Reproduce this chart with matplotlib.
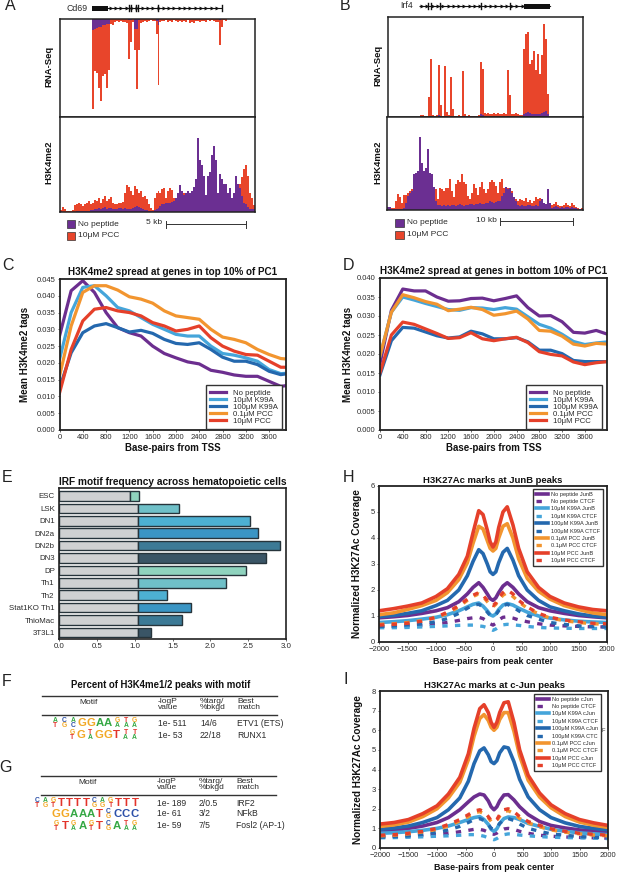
import numpy as np
import matplotlib
matplotlib.use("Agg")
import matplotlib.pyplot as plt
from matplotlib.patches import Rectangle

plt.rcParams['font.family'] = ['Liberation Sans', 'DejaVu Sans']

W, H = 617, 873
DARK = "#222222"
TXT = "#2b2b2b"
PURPLE = "#6C2E8F"
SKY = "#45A5DA"
BLUE = "#2468AE"
ORANGE = "#F2952F"
RED = "#E5402A"
TRACK_RED = "#E8452B"
TRACK_PURPLE = "#6B2F92"

# --- coverage tracks, percent of track height per bin ---
a_rna_red = [0, 0, 0, 0, 0, 0, 0, 0, 0, 0, 0, 0, 0, 0, 0, 0, 92, 53, 55, 70, 84, 58, 56, 70, 52, 5, 6, 3, 2, 3, 2, 3, 3, 4,
             41, 23, 3, 32, 71, 32, 4, 3, 2, 3, 2, 1, 2, 2, 15, 67, 3, 2, 2, 1, 3, 2, 3, 1, 2, 3, 2, 3, 2, 3, 1, 4, 3, 4, 2,
             2, 3, 2, 2, 3, 1, 2, 1, 2, 3, 3, 27, 8, 1, 2, 0, 0, 0, 0, 0, 0, 0, 0, 0, 0, 0, 0, 0, 0]
a_rna_purple = [0, 0, 0, 0, 0, 0, 0, 0, 0, 0, 0, 0, 0, 0, 0, 0, 11, 10, 9, 8, 8, 6, 6, 5, 5, 0, 0, 0, 0, 0, 0, 0, 0, 0,
                1, 1, 0, 10, 10, 1, 0, 0, 0, 0, 0, 0, 0, 0, 2, 6, 0, 0, 0, 0, 0, 0, 0, 0, 0, 0, 0, 0, 0, 0, 0, 0, 0, 0, 0,
                0, 0, 0, 0, 0, 0, 0, 0, 0, 0, 0, 1, 0, 0, 0, 0, 0, 0, 0, 0, 0, 0, 0, 0, 0, 0, 0, 0, 0]
a_k4_red = [2, 5, 3, 1, 1, 1, 2, 7, 8, 9, 8, 6, 8, 10, 12, 8, 10, 13, 12, 15, 10, 14, 17, 12, 14, 16, 10, 8, 8, 10, 9, 11,
            20, 28, 26, 22, 18, 27, 24, 20, 22, 16, 17, 14, 8, 4, 2, 15, 20, 22, 20, 24, 25, 15, 22, 25, 23, 15, 15, 18, 20,
            18, 20, 20, 18, 18, 20, 22, 25, 30, 35, 30, 25, 15, 22, 25, 30, 35, 30, 18, 25, 22, 20, 18, 15, 15, 12, 14, 25,
            25, 30, 37, 45, 49, 38, 20, 15, 7]
a_k4_purple = [1, 0, 0, 0, 0, 0, 0, 0, 1, 1, 1, 1, 1, 1, 1, 2, 2, 3, 3, 4, 3, 4, 5, 3, 4, 4, 3, 3, 3, 4, 4, 3, 4, 3, 3, 3, 4,
               5, 6, 5, 4, 3, 2, 2, 1, 1, 1, 2, 3, 4, 6, 8, 8, 9, 10, 10, 11, 12, 15, 20, 28, 22, 18, 20, 22, 20, 22, 26, 35,
               78, 55, 50, 38, 18, 38, 42, 60, 70, 55, 20, 40, 35, 30, 30, 20, 25, 15, 20, 38, 30, 25, 17, 10, 8, 5, 3, 3, 3]

b_rna_red = [0, 0, 0, 0, 0, 0, 0, 0, 0, 0, 0, 0, 0, 0, 0, 0, 2, 2, 1, 1, 20, 58, 2, 1, 2, 52, 12, 1, 51, 5, 2, 40, 8, 1, 1, 2, 1,
             46, 3, 1, 2, 1, 1, 1, 1, 2, 55, 48, 4, 3, 4, 3, 3, 4, 3, 4, 3, 3, 4, 3, 47, 22, 3, 3, 4, 3, 2, 2, 68, 83, 85, 53,
             57, 66, 47, 63, 43, 62, 93, 78, 23, 0, 0, 0, 0, 0, 0, 0, 0, 0, 0, 0, 0, 0, 0, 0, 0, 0]
b_rna_purple = [0, 0, 0, 0, 0, 0, 0, 0, 0, 0, 0, 0, 0, 0, 0, 0, 0, 0, 0, 0, 0, 1, 0, 0, 0, 2, 0, 0, 1, 0, 0, 1, 0, 0, 0, 0, 0,
                1, 1, 0, 0, 0, 0, 0, 0, 0, 3, 2, 0, 0, 0, 0, 0, 0, 0, 0, 0, 0, 0, 0, 1, 0, 0, 0, 0, 0, 0, 0, 3, 4, 5, 4, 3,
                3, 3, 3, 3, 4, 5, 6, 3, 0, 0, 0, 0, 0, 0, 0, 0, 0, 0, 0, 0, 0, 0, 0, 0, 0]
b_k4_red = [2, 2, 2, 2, 10, 17, 14, 8, 16, 16, 18, 20, 22, 25, 25, 24, 30, 30, 25, 28, 30, 28, 25, 24, 22, 12, 24, 22, 20, 23,
            24, 33, 20, 14, 28, 32, 30, 39, 30, 28, 15, 12, 18, 28, 24, 16, 25, 30, 22, 18, 22, 30, 32, 30, 26, 18, 30, 33,
            24, 22, 23, 22, 20, 14, 12, 10, 12, 11, 10, 13, 9, 11, 8, 10, 14, 12, 13, 10, 8, 6, 7, 5, 5, 6, 9, 5, 4, 4, 5, 8,
            5, 4, 7, 5, 3, 2, 1, 2]
b_k4_purple = [3, 3, 1, 1, 1, 1, 1, 1, 2, 8, 15, 18, 20, 38, 40, 42, 78, 50, 42, 45, 65, 40, 38, 25, 10, 5, 5, 4, 5, 4, 5, 4, 5,
               5, 4, 5, 6, 5, 4, 5, 5, 6, 6, 5, 6, 6, 7, 6, 6, 7, 8, 10, 9, 8, 9, 10, 10, 15, 18, 25, 22, 23, 18, 14, 10, 5, 4, 5,
               4, 4, 5, 5, 4, 4, 5, 4, 10, 12, 8, 6, 22, 8, 2, 3, 4, 3, 2, 3, 2, 3, 3, 2, 3, 2, 2, 1, 1, 1]

# --- panels C and D, mean tags vs distance from TSS ---
tss_x = [0, 200, 400, 600, 800, 1000, 1200, 1400, 1600, 1800, 2000, 2200, 2400, 2600, 2800, 3000, 3200, 3400, 3600, 3800, 4000]
top_labels = ["No peptide", "10μM K99A", "100μM K99A", "0.1μM PCC", "10μM PCC"]
top_colors = [PURPLE, SKY, BLUE, ORANGE, RED]
c_nopep = [.028, .0415, .0445, .041, .035, .0305, .029, .028, .025, .0228, .0215, .0203, .0197, .0178, .0172, .0164, .016, .016, .0145, .013, .0135]
c_k99a10 = [.021, .035, .0425, .043, .040, .0365, .0355, .0335, .0315, .030, .0285, .028, .028, .025, .0228, .0223, .0215, .0205, .018, .0168, .017]
c_k99a100 = [.0125, .023, .029, .031, .0317, .0305, .0292, .0297, .0288, .027, .0258, .0255, .026, .024, .0217, .0205, .0205, .0195, .0175, .0165, .017]
c_pcc01 = [.016, .031, .041, .043, .043, .0417, .0397, .039, .0378, .0355, .034, .0335, .033, .030, .0277, .027, .026, .024, .0225, .0213, .021]
c_pcc10 = [.011, .024, .0325, .036, .0365, .0355, .035, .034, .032, .031, .0295, .030, .031, .0275, .025, .0235, .0225, .0223, .0205, .0187, .0187]
d_nopep = [.0175, .0315, .0371, .0366, .0366, .035, .0339, .034, .0346, .0347, .034, .0346, .0353, .0322, .030, .0301, .0285, .0257, .0255, .0262, .0252]
d_k99a10 = [.0195, .031, .035, .0342, .0333, .0325, .0317, .0315, .0322, .0321, .0317, .0322, .0318, .0298, .0278, .0268, .0252, .0233, .0225, .0229, .0232]
d_k99a100 = [.0145, .0235, .027, .0268, .0258, .0248, .0242, .0245, .026, .0253, .024, .024, .0243, .0232, .021, .021, .0201, .0183, .018, .018, .018]
d_pcc01 = [.0195, .031, .0356, .0348, .0338, .0331, .0314, .0318, .0323, .0317, .0302, .0306, .0313, .0292, .0262, .026, .0247, .0226, .0221, .0228, .0226]
d_pcc10 = [.015, .025, .0284, .0278, .0266, .0254, .0241, .0243, .0256, .024, .0235, .024, .0244, .023, .0206, .0199, .0195, .0179, .0172, .0177, .018]

# --- panel E ---
cells = ["ESC", "LSK", "DN1", "DN2a", "DN2b", "DN3", "DP", "Th1", "Th2", "Stat1KO Th1", "ThioMac", "3T3L1"]
cell_gray = [0.94, 1.05, 1.05, 1.05, 1.05, 1.05, 1.05, 1.05, 1.05, 1.05, 1.05, 1.05]
cell_vals = [1.06, 1.59, 2.53, 2.63, 2.92, 2.74, 2.47, 2.21, 1.43, 1.74, 1.62, 1.22]
cell_colors = ["#8FD3BE", "#6FC0C8", "#4DB0D2", "#3A95C4", "#3C7A96", "#3A5566"] * 2

# --- panels H and I, coverage around peak centres ---
peak_x = [-2000, -1750, -1500, -1250, -1000, -800, -600, -450, -350, -250, -175, -100, -50, 0,
          50, 100, 175, 250, 350, 450, 600, 800, 1000, 1250, 1500, 1750, 2000]
peak_colors = [PURPLE, PURPLE, SKY, SKY, BLUE, BLUE, ORANGE, ORANGE, RED, RED]
peak_styles = ["-", "--"] * 5
h_labels = ["No peptide JunB", "No peptide CTCF", "10μM K99A JunB", "10μM K99A CTCF", "100μM K99A JunB", "100μM K99A CTCF",
            "0.1μM PCC JunB", "0.1μM PCC CTCF", "10μM PCC JunB", "10μM PCC CTCF"]
i_labels = ["No peptide cJun", "No peptide CTCF", "10μM K99A cJun", "10μM K99A CTCF", "100μM K99A cJun", "100μM K99A CTC",
            "0.1μM PCC cJun", "0.1μM PCC CTCF", "10μM PCC cJun", "10μM PCC CTCF"]

h_nopep = [.93, .97, 1.02, 1.1, 1.2, 1.32, 1.55, 1.85, 2.1, 2.28, 2.1, 1.85, 1.67, 1.6, 1.7, 1.9, 2.15, 2.28, 2.1, 1.85, 1.55, 1.32, 1.2, 1.1, 1.02, .97, .93]
h_nopep_ctcf = [.6, .6, .62, .65, .7, .75, .83, .9, .93, .95, .9, .8, .7, .65, .72, .85, .95, .97, .92, .85, .78, .7, .65, .62, .6, .58, .58]
h_k10 = [.75, .78, .82, .88, .95, 1.05, 1.2, 1.35, 1.45, 1.5, 1.38, 1.2, 1.05, 1.0, 1.08, 1.25, 1.42, 1.48, 1.42, 1.3, 1.15, 1.0, .92, .85, .8, .77, .75]
h_k10_ctcf = [.55, .55, .56, .58, .6, .62, .64, .65, .65, .62, .6, .55, .5, .45, .5, .58, .66, .68, .66, .64, .6, .56, .54, .53, .52, .52, .52]
h_k100 = [.97, 1.02, 1.1, 1.2, 1.4, 1.6, 2.0, 2.55, 3.1, 3.55, 3.4, 3.0, 2.7, 2.6, 2.7, 3.05, 3.45, 3.6, 3.15, 2.55, 2.0, 1.6, 1.35, 1.2, 1.08, 1.0, .95]
h_k100_ctcf = [.6, .62, .66, .7, .78, .9, 1.1, 1.3, 1.42, 1.45, 1.35, 1.15, 1.02, 1.0, 1.05, 1.2, 1.4, 1.45, 1.35, 1.2, 1.02, .88, .75, .68, .62, .6, .58]
h_p01 = [1.05, 1.12, 1.25, 1.4, 1.6, 1.9, 2.4, 3.05, 3.8, 4.45, 4.35, 3.9, 3.6, 3.5, 3.6, 4.0, 4.45, 4.55, 4.0, 3.2, 2.45, 1.95, 1.65, 1.4, 1.25, 1.12, 1.05]
h_p01_ctcf = [.68, .7, .75, .82, .95, 1.1, 1.35, 1.6, 1.75, 1.85, 1.75, 1.55, 1.42, 1.35, 1.45, 1.62, 1.8, 1.9, 1.75, 1.55, 1.3, 1.08, .92, .82, .75, .7, .68]
h_p10 = [1.2, 1.28, 1.38, 1.5, 1.75, 2.05, 2.6, 3.3, 4.2, 5.05, 4.9, 4.3, 3.85, 3.65, 3.85, 4.4, 5.0, 5.2, 4.5, 3.6, 2.7, 2.1, 1.75, 1.5, 1.35, 1.25, 1.2]
h_p10_ctcf = [.65, .68, .72, .8, .95, 1.15, 1.4, 1.65, 1.8, 1.9, 1.8, 1.6, 1.45, 1.4, 1.5, 1.7, 1.9, 2.0, 1.85, 1.6, 1.35, 1.1, .95, .85, .78, .72, .7]

i_nopep = [.85, .9, 1.0, 1.12, 1.3, 1.55, 1.95, 2.35, 2.6, 2.75, 2.7, 2.4, 2.1, 1.95, 2.1, 2.4, 2.7, 2.72, 2.45, 2.1, 1.7, 1.35, 1.15, 1.02, .92, .87, .83]
i_nopep_ctcf = [.58, .6, .62, .65, .7, .75, .83, .9, .95, .95, .9, .8, .72, .7, .76, .88, .97, 1.0, .95, .85, .75, .65, .6, .56, .54, .52, .5]
i_k10 = [.75, .78, .83, .9, 1.0, 1.12, 1.3, 1.45, 1.55, 1.6, 1.45, 1.2, .95, .85, .98, 1.25, 1.5, 1.58, 1.55, 1.45, 1.25, 1.1, .95, .85, .77, .72, .68]
i_k10_ctcf = [.52, .53, .55, .57, .6, .62, .65, .68, .68, .65, .6, .52, .47, .42, .48, .58, .68, .72, .7, .66, .62, .58, .55, .53, .52, .5, .48]
i_k100 = [.95, 1.02, 1.12, 1.3, 1.55, 1.95, 2.55, 3.4, 4.3, 4.95, 5.1, 4.75, 4.4, 4.3, 4.45, 4.85, 5.15, 5.1, 4.4, 3.5, 2.6, 1.95, 1.55, 1.28, 1.1, 1, .92]
i_k100_ctcf = [.55, .58, .62, .7, .8, .92, 1.1, 1.3, 1.45, 1.5, 1.4, 1.2, 1.0, .95, 1.05, 1.25, 1.45, 1.5, 1.4, 1.22, 1.0, .85, .72, .65, .58, .55, .52]
i_p01 = [1.1, 1.18, 1.32, 1.6, 2.0, 2.55, 3.35, 4.5, 5.7, 6.6, 6.8, 6.5, 6.15, 6.0, 6.15, 6.55, 6.9, 6.9, 5.95, 4.7, 3.45, 2.6, 2.05, 1.6, 1.32, 1.16, 1.05]
i_p01_ctcf = [.62, .65, .72, .82, .95, 1.12, 1.38, 1.6, 1.8, 1.85, 1.75, 1.55, 1.35, 1.3, 1.4, 1.62, 1.85, 1.9, 1.75, 1.5, 1.28, 1.08, .92, .8, .72, .66, .62]
i_p10 = [1.22, 1.3, 1.45, 1.75, 2.15, 2.75, 3.6, 4.8, 6.1, 7.1, 7.3, 6.9, 6.4, 6.15, 6.4, 6.9, 7.4, 7.45, 6.4, 5.0, 3.7, 2.8, 2.2, 1.75, 1.45, 1.28, 1.15]
i_p10_ctcf = [.65, .68, .75, .85, 1.0, 1.2, 1.45, 1.7, 1.88, 1.95, 1.85, 1.6, 1.4, 1.35, 1.45, 1.7, 1.95, 2.0, 1.85, 1.6, 1.35, 1.15, .98, .85, .75, .7, .65]

# --- panels F and G ---
logo_colors = {"A": "#35A844", "C": "#2B4FA8", "G": "#F2A825", "T": "#E3342B"}
f_logos = [["AT", "CG", "AC", "G", "G", "A", "A", "GA", "TA", "GA"],
           ["GT", "G", "TA", "G", "G", "T", "TA", "TA"]]
g_logos = [["CT", "AG", "GT", "T", "T", "T", "T", "CG", "AG", "GT", "T", "T", "T"],
           ["G", "G", "A", "A", "A", "T", "CG", "C", "C", "C"],
           ["GT", "T", "GA", "A", "GT", "T", "CG", "A", "TA", "GA"]]
f_rows = [["1e- 511", "14/6", "ETV1 (ETS)"], ["1e- 53", "22/18", "RUNX1"]]
g_rows = [["1e- 189", "2/0.5", "IRF2"], ["1e- 61", "3/2", "NFkB"], ["1e- 59", "7/5", "Fosl2 (AP-1)"]]

# --- gene models, exon pixel columns ---
cd69_exons = [129, 131, 136, 138, 158, 222]
irf4_exons = [428, 431, 440, 481, 510]

fig = plt.figure(figsize=(W / 100, H / 100), dpi=100, facecolor="white")


def px_axes(left, top, right, bottom):
    return fig.add_axes([left / W, 1 - bottom / H, (right - left) / W, (bottom - top) / H])


# overlay in pixel columns/rows for the annotations
ov = fig.add_axes([0, 0, 1, 1], zorder=10)
ov.set_xlim(0, W)
ov.set_ylim(H, 0)
ov.axis("off")


def style_axes(ax, lw=1.1, ticksize=5.5):
    for s in ax.spines.values():
        s.set_linewidth(lw)
        s.set_color(DARK)
    ax.tick_params(labelsize=ticksize, length=1.5, width=0.5, pad=1.5, colors=TXT)


def track(ax, red, purple, invert=False):
    x = np.arange(len(red))
    ax.bar(x, red, width=1, color=TRACK_RED, linewidth=0)
    ax.bar(x, purple, width=1, color=TRACK_PURPLE, linewidth=0)
    ax.set_xlim(-0.5, len(red) - 0.5)
    ax.set_ylim(100, 0) if invert else ax.set_ylim(0, 100)
    ax.set_xticks([])
    ax.set_yticks([])
    style_axes(ax)


ax = px_axes(60, 19, 255, 117)
track(ax, a_rna_red, a_rna_purple, invert=True)
ax = px_axes(60, 117, 255, 212)
track(ax, a_k4_red, a_k4_purple)
ax = px_axes(388, 17, 583, 116.5)
track(ax, b_rna_red, b_rna_purple)
ax = px_axes(387, 116.5, 583, 210)
track(ax, b_k4_red, b_k4_purple)


def gene_model(y, x0, x1, b0, b1, exons):
    ov.plot([x0, x1], [y, y], color="#111111", lw=0.8, solid_capstyle="butt")
    beads = np.arange(x0 + 3, x1, 5.3)
    ov.plot(beads, [y] * len(beads), ls="", marker=">", ms=2.8, color="#111111", mew=0)
    ov.add_patch(Rectangle((b0, y - 2.5), b1 - b0, 5, color="#111111", lw=0))
    for e in exons:
        ov.plot([e, e], [y - 3, y + 3], color="#111111", lw=1.0)


gene_model(8, 92, 222, 92, 108, cd69_exons)
gene_model(6, 419, 550, 524, 550, irf4_exons)
ov.text(77, 8.5, "Cd69", fontsize=6.3, ha="center", va="center", color=TXT)
ov.text(407, 6, "Irf4", fontsize=6.3, ha="center", va="center", color=TXT)

for x, y, s in [(49, 66, "RNA-Seq"), (49, 162, "H3K4me2"), (378, 65, "RNA-Seq"), (378, 162, "H3K4me2")]:
    ov.text(x, y, s, rotation=90, fontsize=6.8, fontweight="bold", ha="center", va="center", color="#111111")


def track_key(x, y0, y1, tx):
    for y, s, c in [(y0, "No peptide", TRACK_PURPLE), (y1, "10μM PCC", TRACK_RED)]:
        ov.add_patch(Rectangle((x, y - 4), 8.5, 8, facecolor=c, edgecolor="#333333", lw=0.5))
        ov.text(tx, y, s, fontsize=6, va="center", color=TXT)


def scale_bar(x0, x1, y, s):
    ov.plot([x0, x1], [y, y], color="#333333", lw=0.7)
    for x in (x0, x1):
        ov.plot([x, x], [y - 3.5, y + 3.5], color="#333333", lw=0.7)
    ov.text(x0 - 3, y - 1, s, fontsize=6, ha="right", va="center", color=TXT)


track_key(66.5, 224, 235.5, 78)
scale_bar(165.5, 246, 224, "5 kb")
track_key(395, 223, 235, 407)
scale_bar(499.5, 573, 221, "10 kb")


def tss_panel(box, series, ymax, yticks, xmax, title, legend_at, ypad):
    ax = px_axes(*box)
    for vals, lab, col in zip(series, top_labels, top_colors):
        ax.plot(tss_x, vals, color=col, lw=2.3, label=lab, solid_joinstyle="round")
    ax.set_xlim(0, xmax)
    ax.set_ylim(0, ymax)
    ax.set_xticks(range(0, 3700, 400))
    ax.set_yticks(yticks)
    ax.set_yticklabels([f"{v:.3f}" for v in yticks])
    ax.set_xlabel("Base-pairs from TSS", fontsize=7, fontweight="bold", labelpad=1.5, color="#111111")
    ax.set_ylabel("Mean H3K4me2 tags", fontsize=7, fontweight="bold", labelpad=ypad, color="#111111")
    ax.set_title(title, fontsize=7.1, fontweight="bold", pad=3, color="#111111")
    style_axes(ax, lw=1.3)
    leg = ax.legend(loc="upper left", bbox_to_anchor=(legend_at[0] / W, 1 - legend_at[1] / H), bbox_transform=fig.transFigure,
                    fontsize=5.6, frameon=True, fancybox=False, framealpha=1, edgecolor="#333333", borderaxespad=0,
                    labelspacing=-0.05, handlelength=2.0, handletextpad=0.9, borderpad=0.55)
    leg.get_frame().set_linewidth(1.0)
    for t in leg.get_texts():
        t.set_color(TXT)
    return ax


tss_panel((59.5, 279, 286, 430), [c_nopep, c_k99a10, c_k99a100, c_pcc01, c_pcc10], 0.045,
          list(np.arange(0, 0.0451, 0.005)), 3890, "H3K4me2 spread at genes in top 10% of PC1", (206, 385), 5)
tss_panel((380, 278, 607, 430), [d_nopep, d_k99a10, d_k99a100, d_pcc01, d_pcc10], 0.040,
          list(np.arange(0, 0.0401, 0.005)), 3990, "H3K4me2 spread at genes in bottom 10% of PC1", (526, 385), 2.5)

# panel E
ax = px_axes(59, 488, 286, 639)
y = np.arange(len(cells))
ax.barh(y, cell_gray, height=0.78, color="#CFD1D2", edgecolor="#26343B", linewidth=1.0)
ax.barh(y, np.array(cell_vals) - np.array(cell_gray), left=cell_gray, height=0.78, color=cell_colors, edgecolor="#26343B", linewidth=1.0)
ax.set_ylim(11.53, -0.64)
ax.set_xlim(0, 3)
ax.set_yticks(y)
ax.set_yticklabels(cells)
ax.set_xticks(np.arange(0, 3.01, 0.5))
ax.set_title("IRF motif frequency across hematopoietic cells", fontsize=7.3, fontweight="bold", pad=2.5, color="#111111")
style_axes(ax, lw=1.2, ticksize=5.7)
ax.tick_params(axis="y", length=0, pad=3)


def peak_panel(box, series, labels, ymax, title, legend_at):
    ax = px_axes(*box)
    for vals, lab, col, st in zip(series, labels, peak_colors, peak_styles):
        if st == "-":
            ax.plot(peak_x, vals, color=col, lw=2.6, label=lab, solid_joinstyle="round")
        else:
            ax.plot(peak_x, vals, color=col, lw=2.4, ls=(0, (1.6, 2.2)), label=lab)
    ax.set_xlim(-2000, 2000)
    ax.set_ylim(0, ymax)
    ax.set_xticks(range(-2000, 2001, 500))
    ax.set_yticks(range(0, ymax + 1))
    ax.set_xlabel("Base-pairs from peak center", fontsize=6.4, fontweight="bold", labelpad=3, color="#111111")
    ax.set_ylabel("Normalized H3K27Ac Coverage", fontsize=7.2, fontweight="bold", labelpad=6, color="#111111")
    ax.set_title(title, fontsize=6.8, fontweight="bold", pad=2.5, color="#111111")
    style_axes(ax, lw=1.3)
    leg = ax.legend(loc="upper left", bbox_to_anchor=(legend_at[0] / W, 1 - legend_at[1] / H), bbox_transform=fig.transFigure,
                    fontsize=4.1, frameon=True, fancybox=False, framealpha=1, edgecolor="#333333", borderaxespad=0,
                    labelspacing=0.42, handlelength=2.2, handletextpad=0.5, borderpad=0.45)
    leg.get_frame().set_linewidth(1.0)
    for t in leg.get_texts():
        t.set_color(TXT)
    return ax


peak_panel((379, 486, 607, 642), [h_nopep, h_nopep_ctcf, h_k10, h_k10_ctcf, h_k100, h_k100_ctcf, h_p01, h_p01_ctcf, h_p10, h_p10_ctcf],
           h_labels, 6, "H3K27Ac marks at JunB peaks", (533, 489))
peak_panel((380, 691, 608, 848), [i_nopep, i_nopep_ctcf, i_k10, i_k10_ctcf, i_k100, i_k100_ctcf, i_p01, i_p01_ctcf, i_p10, i_p10_ctcf],
           i_labels, 8, "H3K27Ac marks at c-Jun peaks", (534, 694))
ov.text(603.5, 731, "F", fontsize=4.1, ha="center", va="center", color=TXT)


def draw_logo(x1, y, letters, step):
    x0 = x1 - step * len(letters)
    for n, pos in enumerate(letters):
        cx = x0 + step * (n + 0.5)
        if len(pos) == 1:
            ov.text(cx, y, pos, fontsize=8.2, fontweight="bold", ha="center", va="center", color=logo_colors[pos])
        else:
            ov.text(cx, y - 2.9, pos[0], fontsize=4.9, fontweight="bold", ha="center", va="center", color=logo_colors[pos[0]])
            ov.text(cx, y + 2.9, pos[1], fontsize=4.9, fontweight="bold", ha="center", va="center", color=logo_colors[pos[1]])


def motif_table(top, header_y, rule2, row_ys, rows, cols, motif_x, x0, x1):
    ov.plot([x0, x1], [top, top], color="#333333", lw=1.0)
    ov.plot([x0, x1], [rule2, rule2], color="#333333", lw=1.0)
    ov.text(motif_x, header_y, "Motif", fontsize=6, ha="center", va="center", color=TXT)
    ov.text(cols[0], header_y - 4, "-logP\nvalue", fontsize=6, va="top", linespacing=0.85, color=TXT)
    ov.text(cols[1], header_y - 4, "%targ/\n%bkgd", fontsize=6, va="top", linespacing=0.85, color=TXT)
    ov.text(cols[2], header_y - 4, "Best\nmatch", fontsize=6, va="top", linespacing=0.85, color=TXT)
    for y, row in zip(row_ys, rows):
        for x, s in zip(cols, row):
            ov.text(x, y, s, fontsize=6.2, va="center", color=TXT)


ov.text(161, 685, "Percent of H3K4me1/2 peaks with motif", fontsize=6.9, fontweight="bold", ha="center", va="center", color="#111111")
motif_table(696, 702, 715, [723, 735], f_rows, (158, 200, 237), 89, 42, 277)
motif_table(776, 782, 795, [803, 814, 826], g_rows, (157, 199, 236), 88, 41, 276)
draw_logo(139, 723, f_logos[0], 8.8)
draw_logo(139, 735, f_logos[1], 8.9)
draw_logo(139, 803, g_logos[0], 8.15)
draw_logo(139, 814, g_logos[1], 8.7)
draw_logo(139, 826, g_logos[2], 8.7)

# panel letters
for s, x, y in [("A", 10, 6), ("B", 345, 6), ("C", 8, 266), ("D", 349, 266), ("E", 7, 477), ("H", 349, 477),
                ("F", 7, 681), ("G", 5, 767), ("I", 346, 680)]:
    ov.text(x, y, s, fontsize=11.5, ha="center", va="center", color="#222222")

fig.savefig("out.png", dpi=100)
